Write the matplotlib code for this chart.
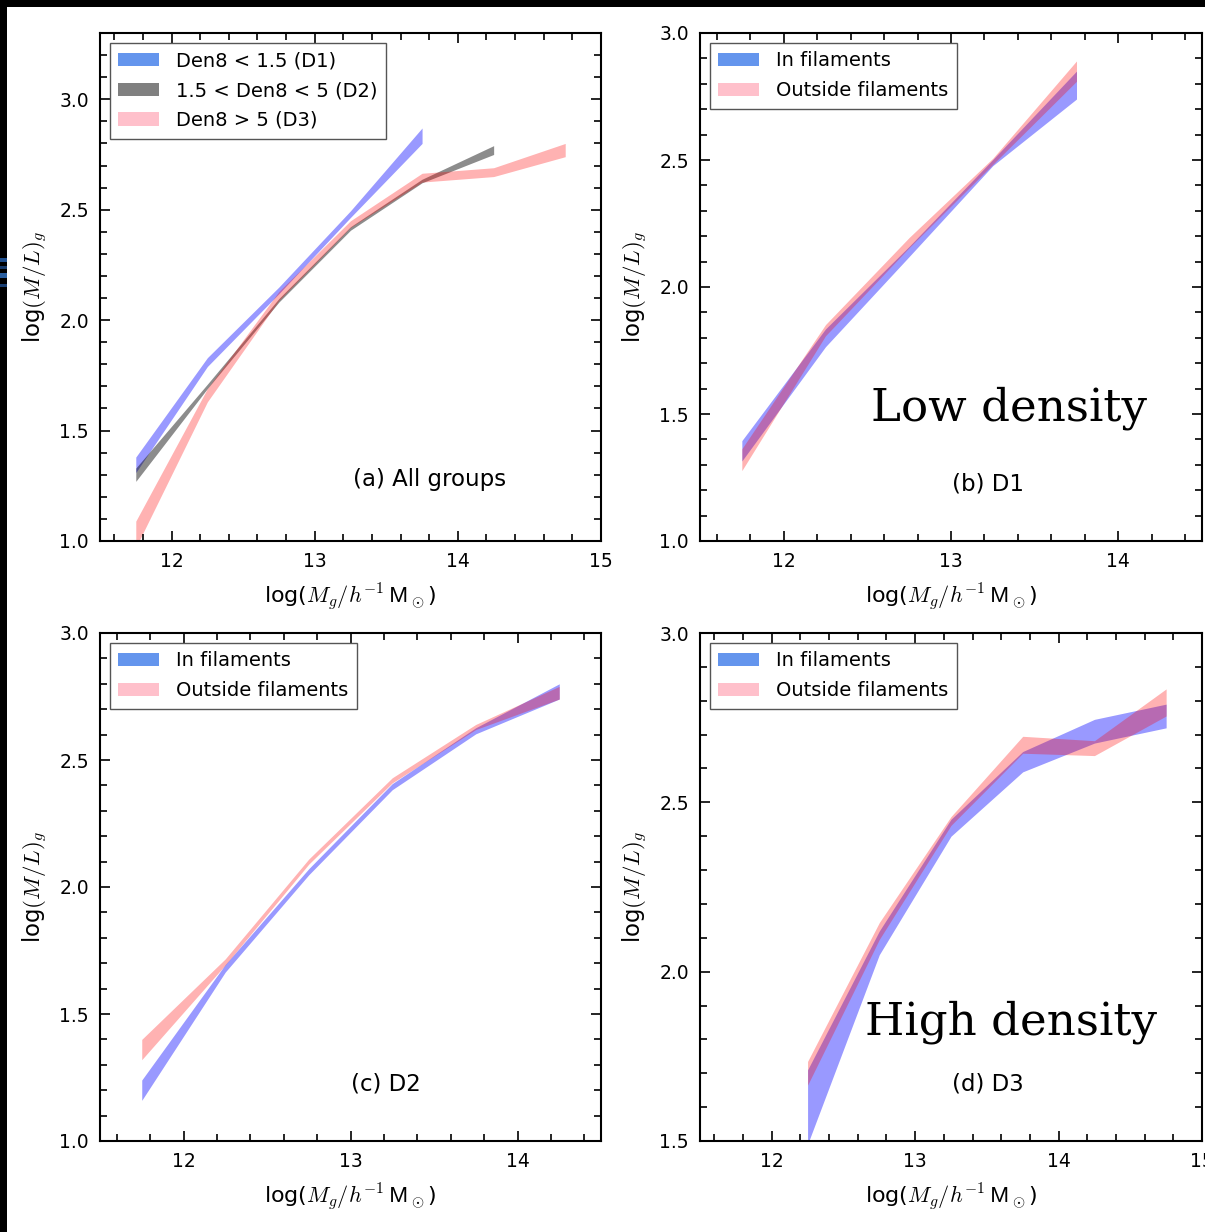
import matplotlib
matplotlib.use("Agg")
import matplotlib.pyplot as plt
from matplotlib.patches import Patch, Rectangle
from matplotlib.ticker import MultipleLocator
import numpy as np

plt.rcParams['font.family'] = ['DejaVu Sans']
plt.rcParams['mathtext.fontset'] = 'cm'

# ---------------- data ----------------
# (a) all groups: centre and half-width of the band
xa_d1 = [11.75, 12.25, 12.75, 13.25, 13.75]
ya_d1 = [1.345, 1.81, 2.135, 2.48, 2.835]
ea_d1 = [0.035, 0.02, 0.015, 0.015, 0.035]
xa_d2 = [11.75, 12.25, 12.75, 13.25, 13.75, 14.25]
ya_d2 = [1.30, 1.70, 2.09, 2.415, 2.63, 2.77]
ea_d2 = [0.03, 0.01, 0.008, 0.008, 0.008, 0.02]
xa_d3 = [11.75, 12.25, 12.75, 13.25, 13.75, 14.25, 14.75]
ya_d3 = [1.03, 1.66, 2.11, 2.435, 2.645, 2.67, 2.77]
ea_d3 = [0.06, 0.03, 0.02, 0.015, 0.02, 0.02, 0.03]

# (b) D1
xb = [11.75, 12.25, 12.75, 13.25, 13.75]
yb_in = [1.355, 1.80, 2.14, 2.49, 2.795]
eb_in = [0.04, 0.035, 0.02, 0.012, 0.055]
yb_out = [1.32, 1.83, 2.175, 2.495, 2.85]
eb_out = [0.043, 0.022, 0.02, 0.012, 0.04]

# (c) D2
xc = [11.75, 12.25, 12.75, 13.25, 13.75, 14.25]
yc_in = [1.20, 1.68, 2.06, 2.395, 2.615, 2.77]
ec_in = [0.04, 0.015, 0.012, 0.012, 0.012, 0.03]
yc_out = [1.36, 1.705, 2.10, 2.42, 2.63, 2.765]
ec_out = [0.04, 0.012, 0.01, 0.01, 0.01, 0.025]

# (d) D3
xd = [12.25, 12.75, 13.25, 13.75, 14.25, 14.75]
yd_in = [1.60, 2.085, 2.425, 2.62, 2.71, 2.755]
ed_in = [0.11, 0.035, 0.025, 0.03, 0.035, 0.035]
yd_out = [1.70, 2.12, 2.445, 2.67, 2.66, 2.795]
ed_out = [0.035, 0.025, 0.013, 0.025, 0.022, 0.04]

legend_a = ['Den8 < 1.5 (D1)', '1.5 < Den8 < 5 (D2)', 'Den8 > 5 (D3)']
legend_f = ['In filaments', 'Outside filaments']

# ---------------- figure ----------------
W, H = 1205, 1232
fig = plt.figure(figsize=(W / 100, H / 100), dpi=100)
fig.patch.set_facecolor('white')

def ax_at(l, t, r, b):
    return fig.add_axes([l / W, 1 - b / H, (r - l) / W, (b - t) / H])

axa = ax_at(100, 33, 601, 541)
axb = ax_at(700, 33, 1202, 541)
axc = ax_at(100, 633, 601, 1141)
axd = ax_at(700, 633, 1202, 1141)

def band(ax, x, y, e, color, alpha):
    x = np.asarray(x); y = np.asarray(y); e = np.asarray(e)
    ax.fill_between(x, y - e, y + e, color=color, alpha=alpha, lw=0)

BLUE, RED, GRAY = 'blue', 'red', 'black'

band(axa, xa_d1, ya_d1, ea_d1, BLUE, 0.4)
band(axa, xa_d2, ya_d2, ea_d2, GRAY, 0.45)
band(axa, xa_d3, ya_d3, ea_d3, RED, 0.3)

band(axb, xb, yb_in, eb_in, BLUE, 0.4)
band(axb, xb, yb_out, eb_out, RED, 0.3)
band(axc, xc, yc_in, ec_in, BLUE, 0.4)
band(axc, xc, yc_out, ec_out, RED, 0.3)
band(axd, xd, yd_in, ed_in, BLUE, 0.4)
band(axd, xd, yd_out, ed_out, RED, 0.3)

axa.set_xlim(11.5, 15); axa.set_ylim(1.0, 3.3)
axb.set_xlim(11.5, 14.5); axb.set_ylim(1.0, 3.0)
axc.set_xlim(11.5, 14.5); axc.set_ylim(1.0, 3.0)
axd.set_xlim(11.5, 15); axd.set_ylim(1.5, 3.0)

xlab = r'log($M_g/h^{-1}\,\mathsf{M}_\odot$)'
ylab = r'log$(M/L)_g$'
for ax in (axa, axb, axc, axd):
    ax.xaxis.set_major_locator(MultipleLocator(1))
    ax.xaxis.set_minor_locator(MultipleLocator(0.2))
    ax.yaxis.set_major_locator(MultipleLocator(0.5))
    ax.yaxis.set_minor_locator(MultipleLocator(0.1))
    ax.yaxis.set_major_formatter(matplotlib.ticker.FormatStrFormatter('%.1f'))
    ax.tick_params(which='both', direction='in', top=True, right=True, labelsize=13.5, width=1.2)
    ax.tick_params(which='major', length=7, pad=8)
    ax.tick_params(which='minor', length=4.8)
    for s in ax.spines.values():
        s.set_linewidth(1.5)
    ax.set_xlabel(xlab, fontsize=16, labelpad=7)
    ax.set_ylabel(ylab, fontsize=16.5, labelpad=7)

def leg(ax, labels, colors):
    handles = [Patch(facecolor=c, edgecolor='none') for c in colors]
    lg = ax.legend(handles, labels, loc='upper left', fontsize=14, fancybox=False,
                   handlelength=2.1, handleheight=0.7, handletextpad=0.85,
                   borderaxespad=0.5, labelspacing=0.55, framealpha=1, borderpad=0.45)
    lg.get_frame().set_edgecolor('#555555')
    lg.get_frame().set_linewidth(1.0)

leg(axa, legend_a, ['cornflowerblue', 'gray', 'pink'])
for ax in (axb, axc, axd):
    leg(ax, legend_f, ['cornflowerblue', 'pink'])

axa.text(0.657, 0.122, '(a) All groups', transform=axa.transAxes, fontsize=16.5, ha='center', va='center')
axb.text(0.573, 0.112, '(b) D1', transform=axb.transAxes, fontsize=16.5, ha='center', va='center')
axc.text(0.570, 0.112, '(c) D2', transform=axc.transAxes, fontsize=16.5, ha='center', va='center')
axd.text(0.573, 0.112, '(d) D3', transform=axd.transAxes, fontsize=16.5, ha='center', va='center')
axb.text(0.615, 0.262, 'Low density', transform=axb.transAxes, fontsize=32.5,
         family='DejaVu Serif', ha='center', va='center')
axd.text(0.62, 0.233, 'High density', transform=axd.transAxes, fontsize=32.5,
         family='DejaVu Serif', ha='center', va='center')

# black border strips of the screenshot
fig.patches.append(Rectangle((0, 1 - 7 / H), 1, 7 / H, transform=fig.transFigure,
                             facecolor='black', edgecolor='none', zorder=10))
fig.patches.append(Rectangle((0, 0), 7 / W, 1, transform=fig.transFigure,
                             facecolor='black', edgecolor='none', zorder=10))
for yy, hh, col in [(258, 4, '#1f4f8f'), (266, 3, '#163a6a'), (273, 5, '#2a5fa0'), (284, 3, '#1a3f73')]:
    fig.patches.append(Rectangle((0, 1 - (yy + hh) / H), 7 / W, hh / H, transform=fig.transFigure,
                                 facecolor=col, edgecolor='none', zorder=11))

fig.savefig('out.png', dpi=100)
